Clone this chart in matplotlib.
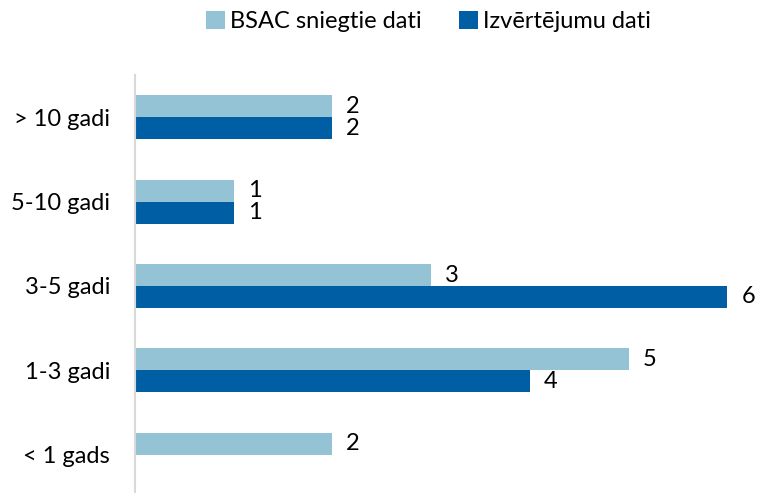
import numpy as np
import matplotlib.pyplot as plt

categories = ['< 1 gads', '1-3 gadi', '3-5 gadi', '5-10 gadi', '> 10 gadi']
bsac = [2, 5, 3, 1, 2]
izv = [np.nan, 4, 6, 1, 2]
series_names = ['BSAC sniegtie dati', 'Izvērtējumu dati']

plt.rcParams['font.family'] = ['Lato', 'DejaVu Sans']

light = '#93c3d4'
dark = '#005ea5'
fs = 17

fig = plt.figure(figsize=(7.57, 4.93), dpi=100, facecolor='white')
ax = fig.add_axes([135/757, -4/493, 622/757, 422/493])

y = np.arange(len(categories))
h = 0.26
b1 = ax.barh(y + h/2, bsac, height=h, color=light, label=series_names[0])
b2 = ax.barh(y - h/2, izv, height=h, color=dark, label=series_names[1])

for yy, v in zip(y + h/2, bsac):
    ax.annotate(str(v), (v, yy), xytext=(10, 0), textcoords='offset points',
                ha='left', va='center', fontsize=fs)
for yy, v in zip(y - h/2, izv):
    if np.isnan(v):
        continue
    ax.annotate(str(int(v)), (v, yy), xytext=(10, 0), textcoords='offset points',
                ha='left', va='center', fontsize=fs)

ax.set_xlim(0, 6.3)
ax.set_ylim(-0.5, 4.5)
ax.set_yticks(y)
ax.set_yticklabels(categories, fontsize=fs)
ax.set_xticks([])
ax.tick_params(axis='y', length=0, pad=18)
for s in ['top', 'right', 'bottom']:
    ax.spines[s].set_visible(False)
ax.spines['left'].set_color('#d9d9d9')
ax.spines['left'].set_linewidth(1.5)

fig.legend(handles=[b1, b2], loc='center', bbox_to_anchor=(0.566, 0.957), ncol=2,
           frameon=False, fontsize=fs, handlelength=0.8, handleheight=0.8,
           handletextpad=0.2, columnspacing=1.6, borderpad=0)

plt.savefig('out.png', dpi=100, facecolor='white')
